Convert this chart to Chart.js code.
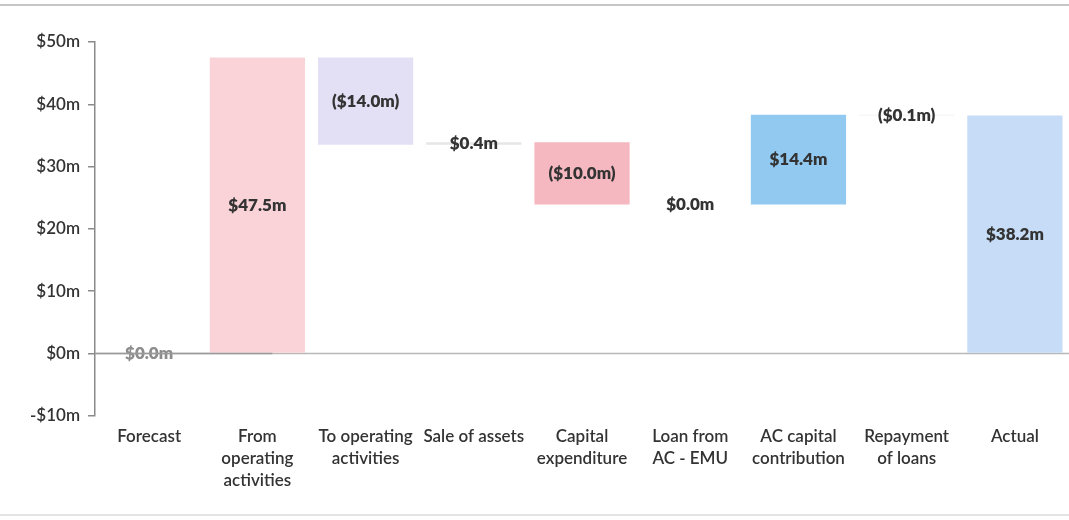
<!DOCTYPE html>
<html>
<head>
<meta charset="utf-8">
<script src="https://cdn.jsdelivr.net/npm/chart.js@4"></script>
<style>
  body { margin: 0; background: #fff; }
  #wrap { position: relative; width: 1069px; height: 520px; }
  #wrap:before { content: ""; position: absolute; left: 0; right: 0; top: 4px; border-top: 2px solid #c6c6c6; }
  #wrap:after { content: ""; position: absolute; left: 0; right: 0; top: 514px; border-top: 2px solid #e4e4e4; }
</style>
</head>
<body>
<div id="wrap"><canvas id="waterfall" width="1069" height="520"></canvas></div>
<script>
var categories = [
    'Forecast',
    ['From', 'operating', 'activities'],
    ['To operating', 'activities'],
    'Sale of assets',
    ['Capital', 'expenditure'],
    ['Loan from', 'AC - EMU'],
    ['AC capital', 'contribution'],
    ['Repayment', 'of loans'],
    'Actual'
];
// movement in $m for each step, first and last are totals
var changes = [0.0, 47.5, -14.0, 0.4, -10.0, 0.0, 14.4, -0.1, 38.2];
var isTotal = [true, false, false, false, false, false, false, false, true];
var barColors = ['#d9d9d9', '#f9d3d8', '#e3e0f6', '#e6e6e6', '#f5b8c0', '#e6e6e6', '#91c9f1', '#eeeeee', '#c7dcf7'];
var yTicks = [-10, 0, 10, 20, 30, 40, 50];

// build the floating bars from the running total
var ranges = [];
var running = 0;
for (var i = 0; i < changes.length; i++) {
    if (isTotal[i]) {
        running = changes[i];
        ranges.push([0, changes[i]]);
    } else {
        ranges.push([running, running + changes[i]]);
        running += changes[i];
    }
}

function money(v) {
    var s = '$' + Math.abs(v).toFixed(1) + 'm';
    return v < 0 ? '(' + s + ')' : s;
}

var labelPlugin = {
    id: 'waterfallLabels',
    beforeDatasetsDraw: function(chart) {
        var ctx = chart.ctx;
        var y = chart.scales.y;
        var area = chart.chartArea;
        var zero = y.getPixelForValue(0);
        ctx.save();
        ctx.strokeStyle = '#b8b8b8';
        ctx.lineWidth = 1.5;
        ctx.beginPath();
        ctx.moveTo(area.left, zero);
        ctx.lineTo(area.right, zero);
        ctx.stroke();
        ctx.restore();
    },
    afterDatasetsDraw: function(chart) {
        var ctx = chart.ctx;
        var meta = chart.getDatasetMeta(0);
        var y = chart.scales.y;
        ctx.save();
        ctx.font = '800 17px Lato';
        ctx.textAlign = 'center';
        ctx.textBaseline = 'middle';
        for (var i = 0; i < changes.length; i++) {
            var bar = meta.data[i];
            var mid = y.getPixelForValue((ranges[i][0] + ranges[i][1]) / 2);
            var text = money(changes[i]);
            if (i === 0) {
                ctx.fillStyle = '#8c8c8c';
                ctx.fillText(text, bar.x, mid);
                ctx.strokeStyle = '#9a9a9a';
                ctx.lineWidth = 1.5;
                ctx.beginPath();
                ctx.moveTo(chart.chartArea.left, mid);
                ctx.lineTo(meta.data[1].x + 15, mid);
                ctx.stroke();
            } else {
                ctx.fillStyle = '#333';
                ctx.fillText(text, bar.x, mid);
            }
        }
        ctx.restore();
    }
};

new Chart(document.getElementById('waterfall'), {
    type: 'bar',
    data: {
        labels: categories,
        datasets: [{
            data: ranges,
            backgroundColor: barColors,
            borderWidth: 0,
            categoryPercentage: 1,
            barPercentage: 0.88
        }]
    },
    options: {
        responsive: false,
        animation: false,
        layout: { padding: { top: 42, right: 0, bottom: 18, left: 22 } },
        plugins: {
            legend: { display: false },
            tooltip: { enabled: false }
        },
        scales: {
            x: {
                grid: { display: false, drawTicks: false },
                border: { display: false },
                ticks: {
                    color: '#333',
                    font: { family: 'Lato', size: 17, weight: '600', lineHeight: 1.3 },
                    padding: 10,
                    maxRotation: 0,
                    autoSkip: false
                }
            },
            y: {
                min: -10,
                max: 50,
                afterBuildTicks: function(axis) {
                    axis.ticks = yTicks.map(function(v) { return { value: v }; });
                },
                grid: { drawOnChartArea: false, drawTicks: true, tickLength: 7, color: '#8a8a8a', lineWidth: 1.5 },
                border: { display: true, color: '#8a8a8a', width: 1.5 },
                ticks: {
                    color: '#333',
                    font: { family: 'Lato', size: 17, weight: '600' },
                    padding: 8,
                    callback: function(v) { return v < 0 ? '-$' + Math.abs(v) + 'm' : '$' + v + 'm'; }
                }
            }
        }
    },
    plugins: [labelPlugin]
});
</script>
</body>
</html>
